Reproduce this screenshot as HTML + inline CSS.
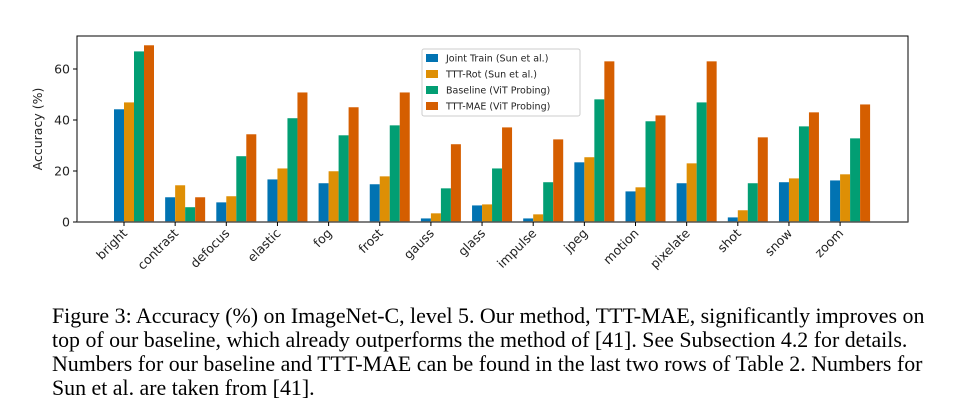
<!DOCTYPE html>
<html><head><meta charset="utf-8"><style>
body{margin:0;background:#fff;width:955px;height:411px;overflow:hidden;position:relative}
svg{position:absolute;left:0;top:0}
#cap{position:absolute;left:52px;top:304px;width:900px;font-family:"Liberation Serif",serif;font-size:21.9px;line-height:24px;color:#000;white-space:nowrap}
</style></head><body>
<svg id="chart" width="955" height="290"></svg>
<div id="cap">Figure 3: Accuracy (%) on ImageNet-C, level 5. Our method, TTT-MAE, significantly improves on<br>top of our baseline, which already outperforms the method of [41]. See Subsection 4.2 for details.<br>Numbers for our baseline and TTT-MAE can be found in the last two rows of Table 2. Numbers for<br>Sun et al. are taken from [41].</div>
<script>
const categories=["bright","contrast","defocus","elastic","fog","frost","gauss","glass","impulse","jpeg","motion","pixelate","shot","snow","zoom"];
const jointTrain=[44.2,9.7,7.7,16.7,15.2,14.8,1.4,6.5,1.4,23.4,12.0,15.2,1.8,15.6,16.3];
const tttRot=[46.9,14.4,10.1,21.0,19.9,17.9,3.4,6.9,3.0,25.4,13.6,23.0,4.6,17.1,18.7];
const baseline=[66.9,5.8,25.8,40.7,34.0,37.9,13.2,21.0,15.6,48.1,39.5,46.9,15.2,37.5,32.8];
const tttMae=[69.3,9.7,34.4,50.8,45.0,50.8,30.5,37.1,32.4,63.0,41.8,63.0,33.2,43.0,46.1];
const seriesNames=["Joint Train (Sun et al.)","TTT-Rot (Sun et al.)","Baseline (ViT Probing)","TTT-MAE (ViT Probing)"];
const yTicks=[0,20,40,60];
const colors=["#0173b2","#de8f05","#029e73","#d55e00"];
const series=[jointTrain,tttRot,baseline,tttMae];
const NS="http://www.w3.org/2000/svg";
const svg=document.getElementById("chart");
const L=77,R=908,T=36,B=222;
const y=v=>B-v*2.55;
const x=i=>114+i*51.15;
const bw=10;
function mk(t,a,p){const e=document.createElementNS(NS,t);for(const k in a)e.setAttribute(k,a[k]);(p||svg).appendChild(e);return e;}
series.forEach((s,si)=>s.forEach((v,i)=>{
 const r=mk("rect",{x:x(i)+si*bw,y:y(v),width:bw,height:B-y(v),fill:colors[si]});
 
 
}));
const fr=mk("rect",{x:L,y:T,width:R-L,height:B-T,fill:"none",stroke:"#000","stroke-width":1});


mk("line",{x1:L,x2:R,y1:B,y2:B,stroke:"#555","stroke-width":1.5});
yTicks.forEach(t=>{
 mk("line",{x1:L-4,x2:L,y1:y(t),y2:y(t),stroke:"#000"});
 const tx=mk("text",{x:L-7,y:y(t)+4.5,"text-anchor":"end","font-family":"DejaVu Sans, sans-serif","font-size":12.5,fill:"#222"});
 tx.textContent=t;
 
 
});
const yt=mk("text",{transform:"translate(42,129) rotate(-90)","text-anchor":"middle","font-family":"DejaVu Sans, sans-serif","font-size":12.5,fill:"#222"});
yt.textContent="Accuracy (%)";


categories.forEach((c,i)=>{
 const tx0=x(i)+10;
 mk("line",{x1:tx0,x2:tx0,y1:B,y2:B+4,stroke:"#000"});
 const t=mk("text",{transform:`translate(${tx0+4},${B+12}) rotate(-45)`,"text-anchor":"end","font-family":"DejaVu Sans, sans-serif","font-size":12.5,fill:"#222"});
 t.textContent=c;
 
 
});
const lg=mk("g",{});


mk("rect",{x:422,y:49,width:158,height:67,fill:"#fff",stroke:"#ccc",rx:2},lg);
seriesNames.forEach((n,i)=>{
 const yy=58+i*16;
 mk("rect",{x:426,y:yy-4,width:12,height:8,fill:colors[i]},lg);
 const t=mk("text",{x:446,y:yy+3.5,"font-family":"DejaVu Sans, sans-serif","font-size":9.5,fill:"#222"},lg);
 t.textContent=n;
 
 
});
</script>
</body></html>
